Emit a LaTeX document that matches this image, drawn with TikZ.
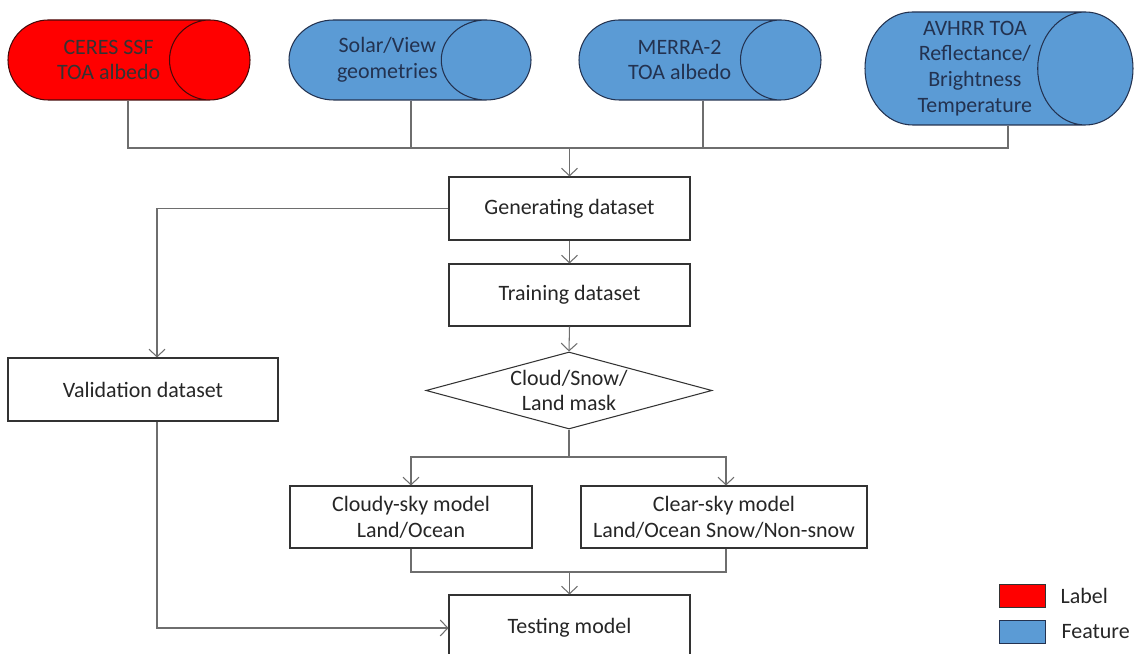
\documentclass[tikz,border=0pt]{standalone}
\usepackage{fontspec}
\setmainfont{Carlito}
\usetikzlibrary{shapes.geometric,arrows.meta,positioning,calc}
\definecolor{featblue}{RGB}{91,155,213}
\definecolor{featedge}{RGB}{35,50,80}
\definecolor{labred}{RGB}{255,0,0}
\definecolor{labedge}{RGB}{70,10,10}
\definecolor{linegray}{RGB}{110,110,110}

\begin{document}
\begin{tikzpicture}
\tikzstyle{every node}=[font=\fontsize{12.5pt}{14.7pt}\selectfont, text=black!85]
\tikzstyle{source}=[cylinder, draw=featedge, fill=featblue, line width=0.6pt, align=center, inner sep=0pt, anchor=shape center, text=featedge]
\tikzstyle{stepbox}=[rectangle, draw=black!80, line width=0.6pt, align=center, minimum width=4.82cm, minimum height=1.26cm]
\tikzstyle{link}=[draw=linegray, line width=0.6pt]
\tikzstyle{arr}=[link, -{Straight Barb[length=1.5mm,width=3.2mm]}]
\useasboundingbox (0,0) rectangle (22.68,13.08);
% input data
\node [source, fill=labred, draw=labedge, text=black!80, minimum height=4.84cm, minimum width=1.6cm, aspect=2] (ceres) at (2.58,11.88) {CERES SSF\\TOA albedo};
\node [source, minimum height=4.84cm, minimum width=1.6cm, aspect=2] (geom) at (8.2,11.88) {Solar/View\\geometries};
\node [source, minimum height=4.84cm, minimum width=1.6cm, aspect=2] (merra) at (14,11.88) {MERRA-2\\TOA albedo};
\node [source, minimum height=5.36cm, minimum width=2.26cm, aspect=1.0] (avhrr) at (19.98,11.71) {AVHRR TOA\\Reflectance/\\Brightness\\Temperature};
\coordinate (join) at (11.39,10.12);
\draw [link] ($(ceres.shape center |- ceres.south)+(-0.02,0)$) |- (join);
\draw [link] ($(geom.shape center |- geom.south)+(0.02,0)$) |- (join);
\draw [link] ($(merra.shape center |- merra.south)+(0.06,0)$) |- (join);
\draw [link] ($(avhrr.shape center |- avhrr.south)+(0.18,0)$) |- (join);
% flow
\node [stepbox] (gen) at (11.39,8.91) {Generating dataset};
\node [stepbox, minimum height=1.24cm] (train) at (11.39,7.18) {Training dataset};
\node [diamond, draw=black!80, line width=0.6pt, align=center, inner sep=0pt, aspect=3.7, minimum width=5.72cm, minimum height=1.54cm] (mask) at (11.38,5.27) {Cloud/Snow/\\Land mask};
\node [stepbox, minimum width=5.4cm] (val) at (2.86,5.29) {Validation dataset};
\node [stepbox, minimum width=4.84cm, minimum height=1.24cm] (cloudy) at (8.22,2.74) {Cloudy-sky model\\Land/Ocean};
\node [stepbox, minimum width=5.72cm, minimum height=1.24cm] (clear) at (14.48,2.74) {Clear-sky model\\Land/Ocean Snow/Non-snow};
\node [stepbox, minimum height=1.32cm] (test) at (11.39,0.52) {Testing model};
\draw [arr] (join) -- (gen.north);
\draw [arr] (gen.south) -- (train.north);
\draw [arr] (train.south) -- (mask.north);
\draw [arr] (gen.west) -| ([xshift=0.28cm]val.north);
\draw [arr] ([xshift=0.28cm]val.south) |- (test.west);
\coordinate (split) at (11.38,3.94);
\draw [link] (mask.south) -- (split);
\draw [arr] (split) -| (cloudy.north);
\draw [arr] (split) -| ([xshift=0.04cm]clear.north);
\coordinate (merge) at (11.39,1.64);
\draw [link] (cloudy.south) |- (merge);
\draw [link] ([xshift=0.04cm]clear.south) |- (merge);
\draw [arr] (merge) -- (test.north);
% legend
\node [draw=black!80, fill=labred, minimum width=0.92cm, minimum height=0.46cm, inner sep=0pt] (redkey) at (20.44,1.17) {};
\node [draw=featedge, fill=featblue, minimum width=0.92cm, minimum height=0.46cm, inner sep=0pt] (bluekey) at (20.44,0.45) {};
\node [right=0.18cm of redkey] (labtxt) {Label};
\node [right=0.2cm of bluekey] (feattxt) {Feature};
\end{tikzpicture}
\end{document}
